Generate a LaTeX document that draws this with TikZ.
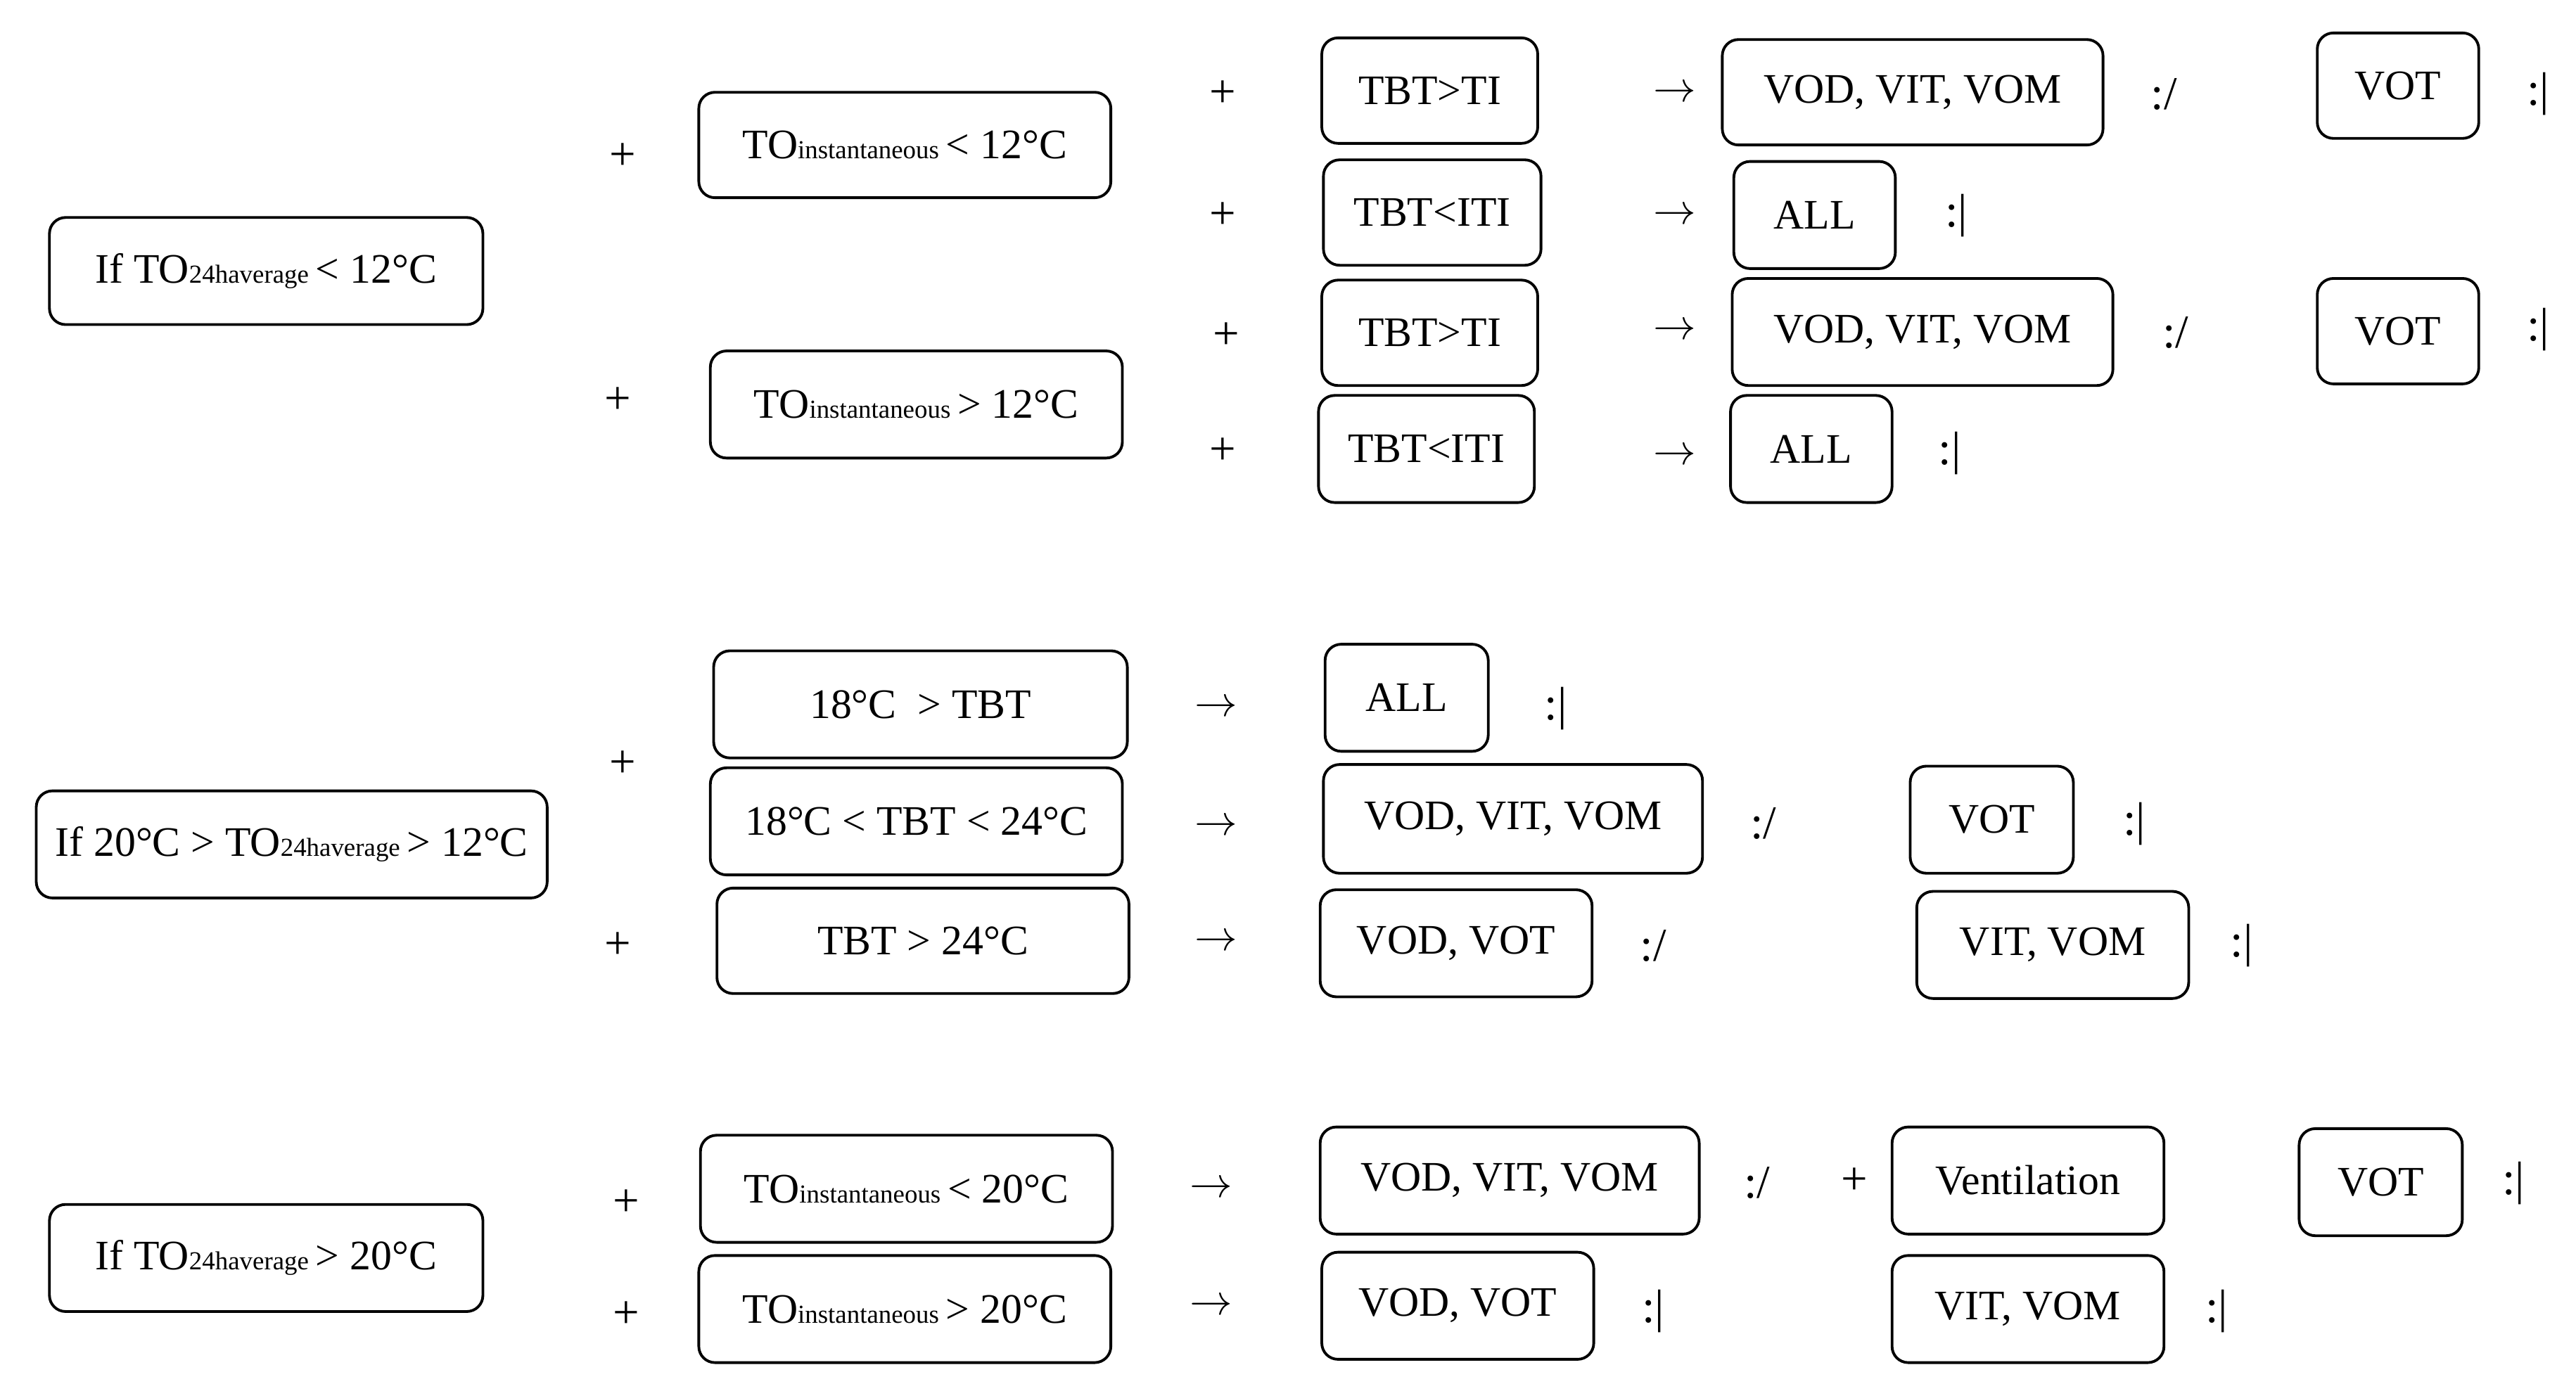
\documentclass[tikz,border=0pt]{standalone}
\usepackage{fontspec}
\setmainfont{Liberation Serif}
\newcommand\sm[1]{{\fontsize{10.5}{11}\selectfont #1}}
\newcommand\bx[6]{\node[box,minimum width={(#4-#2)*0.02343cm},minimum height={(#5-#3)*0.02343cm}] (#1) at ({(#2+#4)/2},{(#3+#5)/2}) {#6};}
\newcommand\tx[4]{\node[lbl] (#1) at (#2,#3) {#4};}
\begin{document}
\begin{tikzpicture}[x=0.02343cm,y=-0.02343cm,
  box/.style={draw,line width=1.1pt,rounded corners=0.23cm,inner sep=0pt,font=\fontsize{17}{20}\selectfont},
  lbl/.style={inner sep=0pt,font=\fontsize{19}{20}\selectfont}]
\useasboundingbox (0,0) rectangle (1563,844);
% block 1
\bx{a1}{30}{132}{293}{197}{If TO\sm{24haverage}\,< 12°C}
\tx{p1}{378}{95}{+}\tx{p2}{375}{243}{+}
\bx{b1}{424}{56}{674}{120}{TO\sm{instantaneous}\,< 12°C}
\bx{b2}{431}{213}{681}{278}{TO\sm{instantaneous}\,> 12°C}
\tx{p3}{742}{57}{+}\tx{p4}{742}{131}{+}\tx{p5}{744}{204}{+}\tx{p6}{742}{274}{+}
\bx{c1}{802}{23}{933}{87}{TBT>TI}
\bx{c2}{803}{97}{935}{161}{TBT<ITI}
\bx{c3}{802}{170}{933}{234}{TBT>TI}
\bx{c4}{800}{240}{931}{305}{TBT<ITI}
\tx{r1}{1016}{57}{$\rightarrow$}\tx{r2}{1016}{131}{$\rightarrow$}\tx{r3}{1016}{201}{$\rightarrow$}\tx{r4}{1016}{277}{$\rightarrow$}
\bx{d1}{1045}{24}{1276}{88}{VOD, VIT, VOM}
\tx{e1}{1313}{57}{:/}
\bx{d1b}{1406}{20}{1504}{84}{VOT}
\tx{e2}{1540}{57}{:|}
\bx{d2}{1052}{98}{1150}{163}{ALL}
\tx{e3}{1187}{131}{:|}
\bx{d3}{1051}{169}{1282}{234}{VOD, VIT, VOM}
\tx{e4}{1320}{202}{:/}
\bx{d3b}{1406}{169}{1504}{233}{VOT}
\tx{e5}{1540}{200}{:|}
\bx{d4}{1050}{240}{1148}{305}{ALL}
\tx{e6}{1183}{275}{:|}
% block 2
\bx{a2}{22}{480}{332}{545}{If 20°C > TO\sm{24haverage}\,> 12°C}
\tx{p7}{378}{464}{+}\tx{p8}{375}{574}{+}
\bx{f1}{433}{395}{684}{460}{18°C\ \ > TBT}
\bx{f2}{431}{466}{681}{531}{18°C < TBT < 24°C}
\bx{f3}{435}{539}{685}{603}{TBT > 24°C}
\tx{r5}{738}{430}{$\rightarrow$}\tx{r6}{738}{502}{$\rightarrow$}\tx{r7}{738}{572}{$\rightarrow$}
\bx{g1}{804}{391}{903}{456}{ALL}
\tx{e7}{944}{430}{:|}
\bx{g2}{803}{464}{1033}{530}{VOD, VIT, VOM}
\tx{e8}{1070}{500}{:/}
\bx{g2b}{1159}{465}{1258}{530}{VOT}
\tx{e9}{1295}{500}{:|}
\bx{g3}{801}{540}{966}{605}{VOD, VOT}
\tx{e10}{1003}{574}{:/}
\bx{g3b}{1163}{541}{1328}{606}{VIT, VOM}
\tx{e11}{1360}{574}{:|}
% block 3
\bx{a3}{30}{731}{293}{796}{If TO\sm{24haverage}\,> 20°C}
\tx{p9}{380}{730}{+}\tx{p10}{380}{798}{+}
\bx{h1}{425}{689}{675}{754}{TO\sm{instantaneous}\,< 20°C}
\bx{h2}{424}{762}{674}{827}{TO\sm{instantaneous}\,> 20°C}
\tx{r8}{735}{722}{$\rightarrow$}\tx{r9}{735}{793}{$\rightarrow$}
\bx{k1}{801}{684}{1031}{749}{VOD, VIT, VOM}
\tx{e12}{1066}{718}{:/}
\tx{p11}{1125}{717}{+}
\bx{k1b}{1148}{684}{1313}{749}{Ventilation}
\bx{k1c}{1395}{685}{1494}{750}{VOT}
\tx{e13}{1525}{718}{:|}
\bx{k2}{802}{760}{967}{825}{VOD, VOT}
\tx{e14}{1003}{796}{:|}
\bx{k2b}{1148}{762}{1313}{827}{VIT, VOM}
\tx{e15}{1345}{796}{:|}
\end{tikzpicture}
\end{document}
